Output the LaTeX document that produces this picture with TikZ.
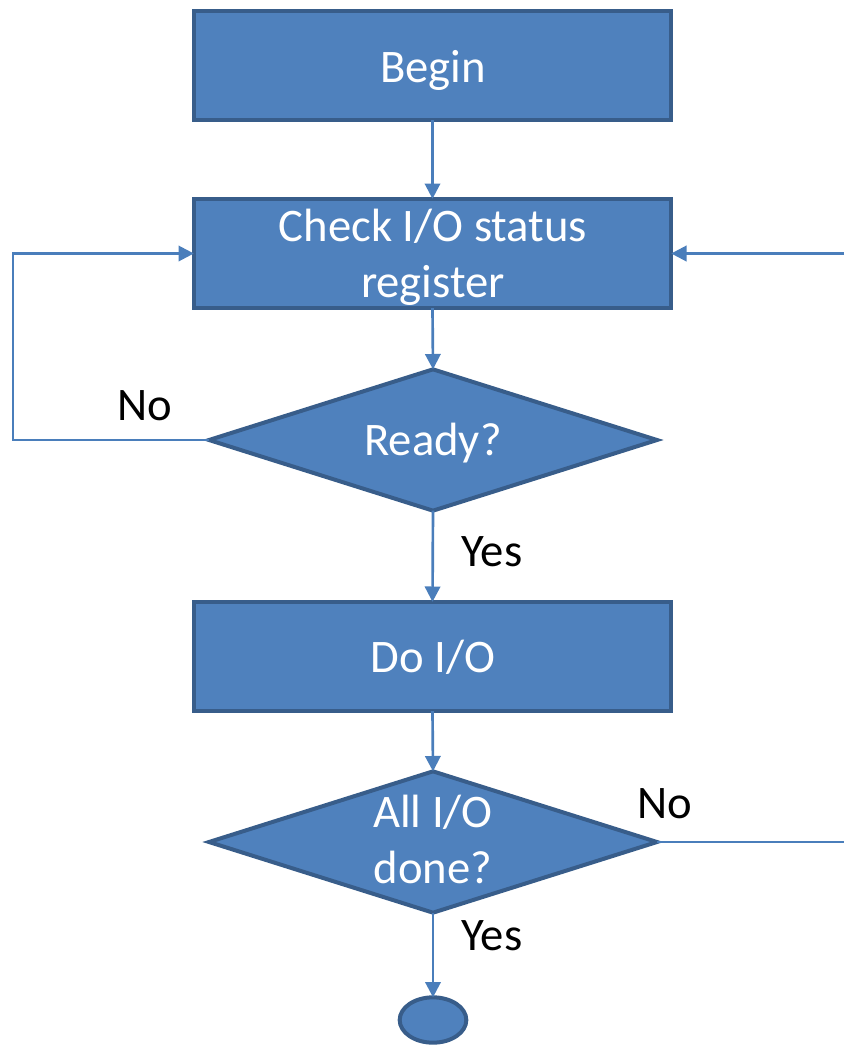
\documentclass[tikz,border=0pt]{standalone}
\usepackage{fontspec}
\setmainfont{Carlito}
\usetikzlibrary{shapes.geometric,arrows.meta}
\definecolor{shapefill}{HTML}{4F81BD}
\definecolor{shapeline}{HTML}{385D8A}
\definecolor{connline}{HTML}{4A7EBB}
\tikzset{
  x=0.75pt, y=-0.75pt,
  stepbox/.style={draw=shapeline, fill=shapefill, line width=3pt, rectangle,
    minimum width=358pt, minimum height=82pt, inner sep=0pt, outer sep=0pt},
  decision/.style={draw=shapeline, fill=shapefill, line width=3pt, diamond,
    minimum width=336pt, minimum height=106pt, inner sep=0pt, outer sep=0pt},
  terminal/.style={draw=shapeline, fill=shapefill, line width=3pt, ellipse,
    minimum width=50pt, minimum height=34pt, inner sep=0pt, outer sep=0pt},
  intext/.style={text=white, anchor=base, align=center, inner sep=0pt,
    font=\fontsize{35pt}{42pt}\selectfont},
  outtext/.style={text=black, anchor=base, inner sep=0pt,
    font=\fontsize{35pt}{42pt}\selectfont},
  conn/.style={draw=connline, line width=2pt},
  arr/.style={conn, -{Triangle[length=11.5pt,width=11.5pt]}},
}
\begin{document}
\begin{tikzpicture}
\useasboundingbox (0,0) rectangle (844,1046);

% shapes
\node[stepbox]  (begin) at (432.5,65.5)  {};
\node[stepbox]  (check) at (432.5,253.5) {};
\node[decision] (ready) at (433,440)     {};
\node[stepbox]  (doio)  at (432.5,656.5) {};
\node[decision] (done)  at (433,842)     {};
\node[terminal] (stop)  at (433,1020)    {};

% texts inside the shapes (base = baseline of the last line)
\node[intext] (tbegin) at (433,82)  {Begin};
\node[intext] (tcheck) at (433,297) {Check I/O status\\register};
\node[intext] (tready) at (433,455) {Ready?};
\node[intext] (tdoio)  at (433,672) {Do I/O};
\node[intext] (tdone)  at (433,883) {All I/O\\done?};

% branch labels
\node[outtext] (noL)  at (145,420) {No};
\node[outtext] (yesA) at (492,566) {Yes};
\node[outtext] (noR)  at (665,818) {No};
\node[outtext] (yesB) at (492,950) {Yes};

% free ends of the loop connectors
\coordinate (loopL) at (13,0);
\coordinate (edgeR) at (844,0);

% main flow
\draw[arr] (begin.south) -- (check.north);
\draw[arr] (check.south) -- (ready.north);
\draw[arr] (ready.south) -- (doio.north);
\draw[arr] (doio.south)  -- (done.north);
\draw[arr] (done.south)  -- (stop.north);

% loops
\draw[arr] (ready.west) -- (ready.west -| loopL) |- (check.west);
\draw[conn] (done.east) -- (done.east -| edgeR);
\draw[arr] (check.east -| edgeR) -- (check.east);
\end{tikzpicture}
\end{document}
